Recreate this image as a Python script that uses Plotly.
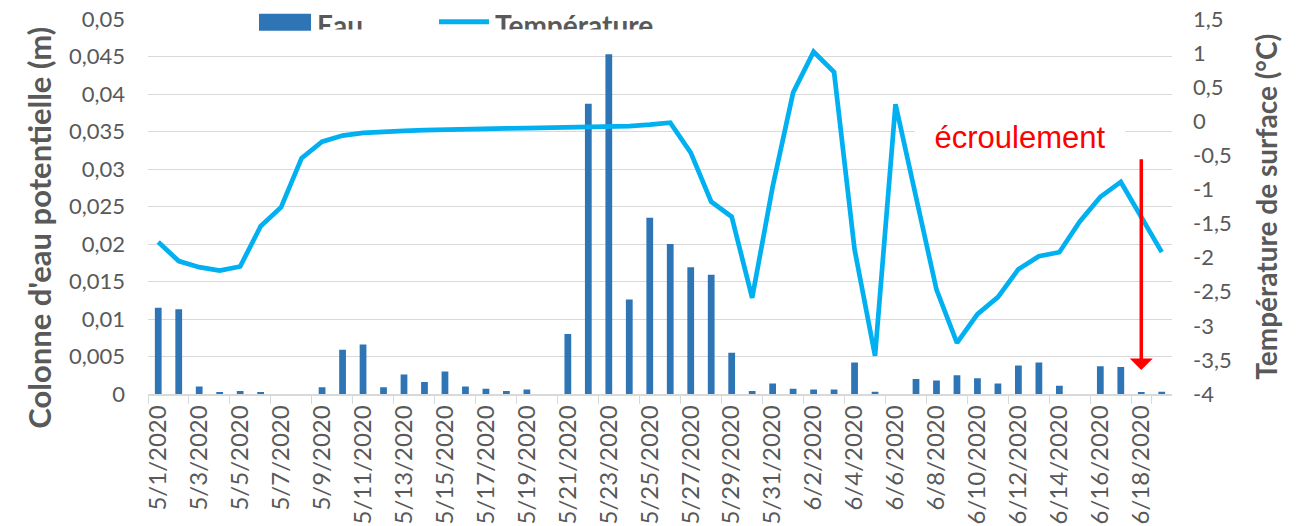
import plotly.graph_objects as go

# categories: one per day, 5/1/2020 .. 6/19/2020
days = [(5, d) for d in range(1, 32)] + [(6, d) for d in range(1, 20)]
dates = [f"{m}/{d}/2020" for m, d in days]

# water column (m), left axis
eau = [0.0115, 0.0113, 0.0010, 0.0002, 0.0004, 0.0002, 0.0, 0.0, 0.0009, 0.0059,
       0.0066, 0.0009, 0.0026, 0.0016, 0.0030, 0.0010, 0.0007, 0.0004, 0.0006, 0.0,
       0.0080, 0.0387, 0.0453, 0.0126, 0.0235, 0.0200, 0.0169, 0.0159, 0.0055, 0.0004,
       0.0014, 0.0007, 0.0006, 0.0006, 0.0042, 0.0003, 0.0, 0.0020, 0.0018, 0.0025,
       0.0021, 0.0014, 0.0038, 0.0042, 0.0011, 0.0, 0.0037, 0.0036, 0.0002, 0.0003]

# surface temperature (degC), right axis
temperature = [-1.77, -2.05, -2.14, -2.19, -2.13, -1.54, -1.26, -0.54, -0.30, -0.21,
               -0.17, -0.15, -0.14, -0.13, -0.12, -0.115, -0.11, -0.105, -0.10, -0.095,
               -0.09, -0.085, -0.08, -0.07, -0.05, -0.02, -0.46, -1.18, -1.40, -2.59,
               -0.96, 0.42, 1.02, 0.72, -1.88, -3.44, 0.25, -1.12, -2.47, -3.25,
               -2.83, -2.58, -2.17, -1.98, -1.92, -1.47, -1.11, -0.89, -1.40, -1.92]

temp_ticks = [1.5, 1, 0.5, 0, -0.5, -1, -1.5, -2, -2.5, -3, -3.5, -4]
temp_labels = [f"{v:g}".replace(".", ",") for v in temp_ticks]

collapse_day = "6/18/2020"

GRAY = "#595959"
GRID = "#D9D9D9"
FONT = "Lato"

fig = go.Figure()

fig.add_trace(go.Bar(
    x=dates, y=eau, name="Eau",
    marker=dict(color="#2E75B6", line_width=0),
))
fig.add_trace(go.Scatter(
    x=dates, y=temperature, name="Température", yaxis="y2",
    mode="lines", line=dict(color="#00B0F0", width=4.7),
))

# the page body keeps its default 8px margin, so the figure is 8px smaller
fig.update_layout(
    width=1291, height=518,
    margin=dict(l=140, r=127, t=11, b=132, autoexpand=False),
    plot_bgcolor="white", paper_bgcolor="white",
    showlegend=False, bargap=0.67, separators=", ",
    font=dict(family=FONT, color=GRAY),
    xaxis=dict(
        type="category", range=[-0.5, 49.5], automargin=False,
        tickmode="array", tickvals=dates[::2], tickangle=-90,
        tickson="boundaries", ticks="outside", ticklen=8, tickcolor=GRID,
        showline=True, linecolor=GRID, linewidth=1.5, showgrid=False,
        ticklabeloverflow="allow",
        tickfont=dict(size=24, color=GRAY, family=FONT),
    ),
    yaxis=dict(
        range=[0, 0.05], tick0=0, dtick=0.005, automargin=False,
        showgrid=True, gridcolor=GRID, gridwidth=1.3, zeroline=False,
        ticks="", ticklabelstandoff=22, ticklabeloverflow="allow",
        tickfont=dict(size=22, color=GRAY, family=FONT),
    ),
    yaxis2=dict(
        overlaying="y", side="right", range=[-4, 1.5], automargin=False,
        tickmode="array", tickvals=temp_ticks, ticktext=temp_labels,
        showgrid=False, zeroline=False, ticks="", ticklabelstandoff=20,
        ticklabeloverflow="allow",
        tickfont=dict(size=22, color=GRAY, family=FONT),
    ),
)

# helpers: reference pixel position -> paper coordinates
def px_x(p):
    return (p - 148) / 1024.0

def px_y(p):
    return (394.3 - p) / 375.0

# axis titles
fig.add_annotation(text="<b>Colonne d'eau potentielle (m)</b>", textangle=-90,
                   xref="paper", yref="paper", x=px_x(39), y=px_y(228),
                   xanchor="center", yanchor="middle",
                   showarrow=False, font=dict(size=31, color=GRAY, family=FONT))
fig.add_annotation(text="<b>Température de surface (°C)</b>", textangle=-90,
                   xref="paper", yref="paper", x=px_x(1266), y=px_y(207),
                   xanchor="center", yanchor="middle",
                   showarrow=False, font=dict(size=28, color=GRAY, family=FONT))

# legend drawn by hand so it can be clipped like the original
fig.add_shape(type="rect", xref="paper", yref="paper",
              x0=px_x(180), x1=px_x(725), y0=px_y(28), y1=px_y(0),
              fillcolor="white", line_width=0, layer="above")
fig.add_shape(type="rect", xref="paper", yref="paper",
              x0=px_x(259), x1=px_x(311), y0=px_y(31), y1=px_y(14),
              fillcolor="#2E75B6", line_width=0, layer="above")
fig.add_shape(type="line", xref="paper", yref="paper",
              x0=px_x(439), x1=px_x(489), y0=px_y(22), y1=px_y(22),
              line=dict(color="#00B0F0", width=5), layer="above")

fig.add_annotation(text="<b>Eau</b>", xref="paper", yref="paper",
                   x=px_x(315), y=px_y(25), xanchor="left", yanchor="middle",
                   showarrow=False, font=dict(size=28, color=GRAY, family=FONT))
fig.add_annotation(text="<b>Température</b>", xref="paper", yref="paper",
                   x=px_x(493), y=px_y(25), xanchor="left", yanchor="middle",
                   showarrow=False, font=dict(size=28, color=GRAY, family=FONT))
fig.add_annotation(text="", xref="paper", yref="paper",
                   x=px_x(312), y=px_y(29), xanchor="left", yanchor="top",
                   width=370, height=18, bgcolor="white", showarrow=False)

# collapse label and arrow
fig.add_annotation(text="écroulement", x=42.08, y=0.0343, xref="x", yref="y",
                   showarrow=False, bgcolor="white", width=208, height=44,
                   font=dict(size=31, color="#FF0000", family="Liberation Sans"))
fig.add_annotation(text="", x=collapse_day, y=0.0032, xref="x", yref="y",
                   ax=collapse_day, ay=0.0315, axref="x", ayref="y",
                   showarrow=True, arrowhead=1, arrowsize=1.1, arrowwidth=3.5,
                   arrowcolor="#FF0000", standoff=0)

fig.write_html("out.html")
